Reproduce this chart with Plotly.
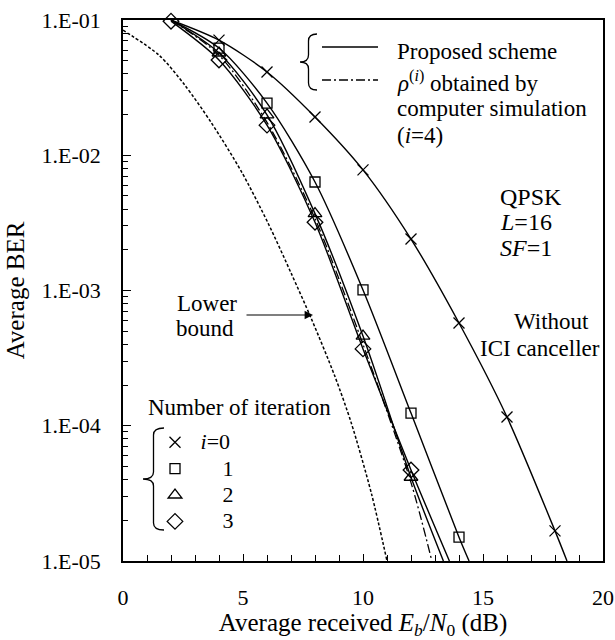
import plotly.graph_objects as go

# ---------------- data ----------------
# i = 0 (without ICI canceller)
x_i0 = [2, 4, 6, 8, 10, 12, 14, 16, 18]
ber_i0 = [0.1, 0.071, 0.0413, 0.0192, 0.0078, 0.0024, 5.75e-4, 1.16e-4, 1.67e-5]
x_i0_end, ber_i0_end = 18.5, 1e-5

# i = 1
x_i1 = [2, 4, 6, 8, 10, 12, 14]
ber_i1 = [0.1, 0.062, 0.0243, 0.00634, 0.00101, 1.24e-4, 1.5e-5]
x_i1_end, ber_i1_end = 14.42, 1e-5

# i = 2
x_i2 = [2, 4, 6, 8, 10, 12]
ber_i2 = [0.1, 0.057, 0.0199, 0.0037, 4.6e-4, 4.16e-5]
x_i2_end, ber_i2_end = 13.35, 1e-5

# i = 3
x_i3 = [2, 4, 6, 8, 10, 12]
ber_i3 = [0.098, 0.0506, 0.0167, 0.0032, 3.7e-4, 4.71e-5]
x_i3_end, ber_i3_end = 13.6, 1e-5

# markers shown (simulation points)
mx_i0 = [4, 6, 8, 10, 12, 14, 16, 18]
mb_i0 = [0.071, 0.0413, 0.0192, 0.0078, 0.0024, 5.75e-4, 1.16e-4, 1.67e-5]
mx_i1 = [4, 6, 8, 10, 12, 14]
mb_i1 = [0.062, 0.0243, 0.00634, 0.00101, 1.24e-4, 1.5e-5]
mx_i2 = [2, 4, 6, 8, 10, 12]
mb_i2 = [0.1, 0.057, 0.0199, 0.0037, 4.6e-4, 4.16e-5]
mx_i3 = [2, 4, 6, 8, 10, 12]
mb_i3 = [0.098, 0.0506, 0.0167, 0.0032, 3.7e-4, 4.71e-5]

# rho obtained by computer simulation (i=4), dash-dot
x_sim4 = [2, 4, 6, 8, 10, 12, 12.87]
ber_sim4 = [0.1, 0.055, 0.0175, 0.0034, 4.0e-4, 3.8e-5, 1e-5]

# lower bound, dotted
x_lb = [0, 1.5, 2.57, 3.68, 4.93, 6.04, 7.0, 7.85, 8.82, 9.51, 10.35, 11.0]
ber_lb = [0.0841, 0.055, 0.0331, 0.0174, 0.00759, 0.00316, 0.00135, 6.17e-4, 2.34e-4, 1.05e-4, 3.16e-5, 1e-5]

y_tickvals = [1e-1, 1e-2, 1e-3, 1e-4, 1e-5]
y_ticktext = ["1.E-01", "1.E-02", "1.E-03", "1.E-04", "1.E-05"]
x_tickvals = [0, 5, 10, 15, 20]

NB = "\u00a0"
legend_names = [NB + "<i>i</i>=0", NB * 5 + "1", NB * 5 + "2", NB * 5 + "3"]

# ---------------- layout geometry ----------------
W, H = 615, 640
PL, PR, PT, PB = 123, 603, 20, 561  # plot area in pixels
FONT = "Liberation Serif"


def px(x):
    return (x - PL) / (PR - PL)


def py(y):
    return 1 - (y - PT) / (PB - PT)


fig = go.Figure()

line_style = dict(color="black", width=1.4)
curves = [
    (x_i0 + [x_i0_end], ber_i0 + [ber_i0_end]),
    (x_i1 + [x_i1_end], ber_i1 + [ber_i1_end]),
    (x_i2 + [x_i2_end], ber_i2 + [ber_i2_end]),
    (x_i3 + [x_i3_end], ber_i3 + [ber_i3_end]),
]
for xs, ys in curves:
    fig.add_trace(go.Scatter(x=xs, y=ys, mode="lines", line=dict(shape="spline", smoothing=0.8, **line_style),
                             showlegend=False, hoverinfo="skip"))

fig.add_trace(go.Scatter(x=x_sim4, y=ber_sim4, mode="lines",
                         line=dict(color="black", width=1.3, dash="9px,3px,2px,3px", shape="spline", smoothing=0.8),
                         showlegend=False))
fig.add_trace(go.Scatter(x=x_lb, y=ber_lb, mode="lines",
                         line=dict(color="black", width=1.5, dash="3px,2px", shape="spline", smoothing=0.8),
                         showlegend=False))

markers = [
    (mx_i0, mb_i0, "x-thin-open", 11, legend_names[0]),
    (mx_i1, mb_i1, "square-open", 10, legend_names[1]),
    (mx_i2, mb_i2, "triangle-up-open", 12, legend_names[2]),
    (mx_i3, mb_i3, "diamond-open", 12, legend_names[3]),
]
for xs, ys, sym, size, name in markers:
    fig.add_trace(go.Scatter(x=xs, y=ys, mode="markers", cliponaxis=False,
                             name='<span style="font-size:22px">' + name + "</span>",
                             marker=dict(symbol=sym, size=size, color="black",
                                         line=dict(color="black", width=1.3))))

# ---------------- annotations ----------------
ann = []


def text(x, y, t, size=23, xanchor="left"):
    ann.append(dict(x=px(x), y=py(y), xref="paper", yref="paper", text=t, showarrow=False,
                    xanchor=xanchor, yanchor="middle", font=dict(family=FONT, size=size, color="black")))


text(395, 52, "Proposed scheme")
text(395, 81, "<i>ρ</i><sup>(<i>i</i>)</sup> obtained by")
text(395, 108, "computer simulation")
text(395, 135, "(<i>i</i>=4)")
text(498, 197, "QPSK", size=24)
text(498, 222, "<i>L</i>=16", size=24)
text(498, 248, "<i>SF</i>=1", size=24)
text(551, 321, "Without", xanchor="center")
text(540, 348, "ICI canceller", xanchor="center")
text(175, 303, "Lower")
text(174, 328, "bound")
text(146, 407, "Number of iteration")

# arrow for lower bound
ann.append(dict(x=px(313), y=py(315), xref="paper", yref="paper", ax=-68, ay=0, text="", showarrow=True,
                arrowhead=2, arrowsize=1.4, arrowwidth=1.2, arrowcolor="black"))


# ---------------- shapes (braces, legend samples) ----------------
def brace(x_tip, x_end, y_top, y_bot):
    xm = (x_tip + x_end) / 2
    ym = (y_top + y_bot) / 2
    r = min(7, (y_bot - y_top) / 6)
    pts = [
        ("M", [(x_end, y_top)]),
        ("Q", [(xm, y_top), (xm, y_top + r)]),
        ("L", [(xm, ym - r)]),
        ("Q", [(xm, ym), (x_tip, ym)]),
        ("Q", [(xm, ym), (xm, ym + r)]),
        ("L", [(xm, y_bot - r)]),
        ("Q", [(xm, y_bot), (x_end, y_bot)]),
    ]
    s = ""
    for cmd, ps in pts:
        s += cmd + " " + " ".join(f"{px(a):.5f},{py(b):.5f}" for a, b in ps) + " "
    return dict(type="path", path=s, xref="paper", yref="paper", line=dict(color="black", width=1.3))


shapes = [
    brace(300, 317, 34, 90),
    brace(143, 164, 428, 530),
    dict(type="line", xref="paper", yref="paper", x0=px(322), x1=px(378), y0=py(47), y1=py(47),
         line=dict(color="black", width=1.4)),
    dict(type="line", xref="paper", yref="paper", x0=px(322), x1=px(378), y0=py(80), y1=py(80),
         line=dict(color="black", width=1.3, dash="9px,3px,2px,3px")),
]

minor_y = [m * 10.0 ** k for k in range(-5, -1) for m in range(2, 10)]

fig.update_layout(
    width=W, height=H,
    margin=dict(l=PL, r=W - PR, t=PT, b=H - PB, autoexpand=False),
    paper_bgcolor="white", plot_bgcolor="white",
    font=dict(family=FONT, size=22, color="black"),
    annotations=ann, shapes=shapes,
    legend=dict(x=px(155), y=py(424), xanchor="left", yanchor="top", bgcolor="rgba(0,0,0,0)",
                font=dict(family=FONT, size=18), tracegroupgap=0, itemsizing="trace"),
    showlegend=True,
)
fig.update_xaxes(range=[0, 20], tickvals=x_tickvals, ticks="inside", ticklen=7, tickwidth=1.2,
                 tickcolor="black", showline=True, linecolor="black", linewidth=1.6, mirror=True,
                 showgrid=False, zeroline=False, ticklabelstandoff=16, automargin=False,
                 tickfont=dict(family=FONT, size=22),
                 minor=dict(dtick=1, ticks="inside", ticklen=6, tickwidth=1.1, tickcolor="black", showgrid=False),
                 title=dict(text="Average received <i>E</i><sub><i>b</i></sub>/<i>N</i><sub>0</sub> (dB)",
                            font=dict(family=FONT, size=25), standoff=4))
fig.update_yaxes(type="log", range=[-5, -1], tickvals=y_tickvals, ticktext=y_ticktext, ticks="inside",
                 ticklen=8, tickwidth=1.2, tickcolor="black", showline=True, linecolor="black", linewidth=1.6,
                 mirror=True, showgrid=False, zeroline=False, ticklabelstandoff=16, automargin=False,
                 tickfont=dict(family=FONT, size=22),
                 minor=dict(tickvals=minor_y, ticks="inside", ticklen=5, tickwidth=1.1, tickcolor="black",
                            showgrid=False),
                 title=dict(text="Average BER", font=dict(family=FONT, size=25), standoff=10))

fig.write_html("out.html")
